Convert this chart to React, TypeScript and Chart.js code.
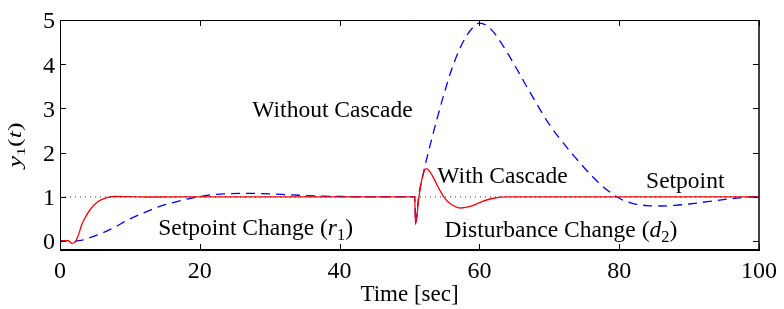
import React, { useEffect, useRef } from 'react';
import { Chart, registerables } from 'chart.js';

Chart.register(...registerables);

const FONT = "'Liberation Serif', 'Times New Roman', serif";

// axis ranges and ticks
const xMin = 0;
const xMax = 100;
const yMin = -0.2;
const yMax = 5;
const xTicks = [0, 20, 40, 60, 80, 100];
const yTicks = [0, 1, 2, 3, 4, 5];
const xTitle = 'Time [sec]';

// setpoint (dotted)
const setpointTime = [0, 100];
const setpointValue = [1, 1];

// with cascade (red, solid)
const cascadeTime = [0, 1.2, 1.7, 2.2, 2.7, 3.1, 3.7, 4.3, 5.4, 6.6, 8, 10, 14, 20, 30, 40, 50.75, 50.85, 51.35, 51.8, 52.4, 53.2, 54.1, 55, 56, 57.4, 58.8, 60.3, 62, 64, 70, 80, 90, 100];
const cascadeValue = [0.01, 0.01, -0.05, -0.01, 0.17, 0.37, 0.56, 0.71, 0.89, 0.98, 1.01, 1.005, 0.998, 1.0, 1.0, 1.0, 1.0, 0.38, 1.0, 1.42, 1.64, 1.5, 1.22, 0.98, 0.83, 0.75, 0.79, 0.89, 0.97, 1.0, 1.0, 1.0, 1.0, 1.0];

// without cascade (blue, dashed)
const noCascadeTime = [0, 1.2, 1.7, 2.3, 3.3, 4.3, 5.5, 6.6, 8, 9.7, 11.8, 14, 16.6, 19, 21.3, 23.5, 26.1, 29, 33.2, 37, 40.3, 45, 50.75, 50.9, 51.3, 52, 53, 54, 55, 56, 57, 58, 59, 60, 61, 62, 63, 64, 65, 66, 67, 68, 69, 70, 71, 72, 73, 74, 75, 76, 77, 78, 79, 80, 81, 82, 83, 84, 86, 88, 90, 92, 94, 96, 98, 100];
const noCascadeValue = [0.01, 0.01, -0.02, 0.0, 0.03, 0.08, 0.15, 0.22, 0.33, 0.48, 0.63, 0.77, 0.89, 0.98, 1.04, 1.07, 1.08, 1.075, 1.045, 1.02, 1.01, 1.0, 1.0, 0.42, 1.0, 1.55, 2.2, 2.8, 3.36, 3.87, 4.28, 4.6, 4.82, 4.93, 4.88, 4.73, 4.51, 4.26, 3.99, 3.71, 3.43, 3.16, 2.89, 2.64, 2.42, 2.22, 2.02, 1.84, 1.66, 1.49, 1.33, 1.19, 1.07, 0.97, 0.9, 0.85, 0.82, 0.805, 0.795, 0.81, 0.84, 0.88, 0.92, 0.96, 0.99, 1.01];

type Part = { t: string; i?: boolean; sub?: boolean };

// annotation texts and their anchors (data coords: centre x, baseline y)
const labelWithout: Part[] = [{ t: 'Without Cascade' }];
const labelWith: Part[] = [{ t: 'With Cascade' }];
const labelSetpoint: Part[] = [{ t: 'Setpoint' }];
const labelR1: Part[] = [{ t: 'Setpoint Change (' }, { t: 'r', i: true }, { t: '1', sub: true }, { t: ')' }];
const labelD2: Part[] = [{ t: 'Disturbance Change (' }, { t: 'd', i: true }, { t: '2', sub: true }, { t: ')' }];
const yLabel: Part[] = [{ t: 'y', i: true }, { t: '1', sub: true }, { t: '(' }, { t: 't', i: true }, { t: ')' }];

const annotations = [
  { parts: labelWithout, x: 38.98, y: 2.815 },
  { parts: labelWith, x: 63.3, y: 1.31 },
  { parts: labelSetpoint, x: 89.45, y: 1.196 },
  { parts: labelR1, x: 27.98, y: 0.14 },
  { parts: labelD2, x: 71.66, y: 0.088 },
];

const toPoints = (xs: number[], ys: number[]) => xs.map((x, k) => ({ x, y: ys[k] }));

function fontFor(p: Part, size: number) {
  return `${p.i ? 'italic ' : ''}${p.sub ? size * 0.7 : size}px ${FONT}`;
}

function drawRich(ctx: CanvasRenderingContext2D, parts: Part[], x: number, y: number, size: number) {
  const widths = parts.map((p) => {
    ctx.font = fontFor(p, size);
    return ctx.measureText(p.t).width;
  });
  const total = widths.reduce((a, b) => a + b, 0);
  let cx = x - total / 2;
  ctx.textAlign = 'left';
  ctx.textBaseline = 'alphabetic';
  parts.forEach((p, k) => {
    ctx.font = fontFor(p, size);
    ctx.fillText(p.t, cx, y + (p.sub ? size * 0.22 : 0));
    cx += widths[k];
  });
}

const framePlugin = {
  id: 'frameAndText',
  afterDatasetsDraw(chart: any) {
    const { ctx, chartArea: a, scales } = chart;
    const xs = scales.x;
    const ys = scales.y;
    ctx.save();
    ctx.strokeStyle = '#000';
    ctx.lineWidth = 1;
    const seg = (x1: number, y1: number, x2: number, y2: number) => {
      ctx.beginPath();
      ctx.moveTo(x1, y1);
      ctx.lineTo(x2, y2);
      ctx.stroke();
    };
    const tl = 6;
    for (const v of xTicks) {
      const px = Math.round(xs.getPixelForValue(v)) + 0.5;
      seg(px, a.bottom, px, a.bottom - tl);
      seg(px, a.top, px, a.top + tl);
    }
    for (const v of yTicks) {
      const py = Math.round(ys.getPixelForValue(v)) + 0.5;
      seg(a.left, py, a.left + tl, py);
      seg(a.right, py, a.right - tl, py);
    }
    // frame
    ctx.lineWidth = 1;
    seg(a.left, a.top + 0.5, a.right, a.top + 0.5);
    seg(a.left + 0.5, a.top, a.left + 0.5, a.bottom);
    ctx.lineWidth = 2;
    seg(a.left, a.bottom, a.right + 1, a.bottom);
    ctx.lineWidth = 1.5;
    seg(a.right, a.top, a.right, a.bottom);

    // annotations
    ctx.fillStyle = '#000';
    for (const an of annotations) {
      drawRich(ctx, an.parts, xs.getPixelForValue(an.x), ys.getPixelForValue(an.y), 23.5);
    }

    // y-axis label
    ctx.save();
    ctx.translate(15, 145);
    ctx.rotate(-Math.PI / 2);
    ctx.scale(1, 0.7);
    drawRich(ctx, yLabel, 0, 8, 26);
    ctx.restore();
    ctx.restore();
  },
};

export default function App() {
  const ref = useRef<HTMLCanvasElement | null>(null);

  useEffect(() => {
    if (!ref.current) return;
    const chart = new Chart(ref.current, {
      type: 'line',
      data: {
        datasets: [
          {
            label: 'Setpoint',
            data: toPoints(setpointTime, setpointValue),
            borderColor: '#333',
            borderWidth: 1,
            borderDash: [1, 4],
            pointRadius: 0,
            fill: false,
          },
          {
            label: 'With Cascade',
            data: toPoints(cascadeTime, cascadeValue),
            borderColor: '#ff0000',
            borderWidth: 1.3,
            pointRadius: 0,
            cubicInterpolationMode: 'monotone',
            fill: false,
          },
          {
            label: 'Without Cascade',
            data: toPoints(noCascadeTime, noCascadeValue),
            borderColor: '#0000ff',
            borderWidth: 1.3,
            borderDash: [9, 6],
            pointRadius: 0,
            cubicInterpolationMode: 'monotone',
            fill: false,
          },
        ],
      },
      options: {
        animation: false,
        responsive: true,
        maintainAspectRatio: false,
        layout: { padding: { left: 0, top: 20, right: 21, bottom: 0 } },
        plugins: { legend: { display: false }, tooltip: { enabled: false } },
        scales: {
          x: {
            type: 'linear',
            min: xMin,
            max: xMax,
            afterBuildTicks: (s: any) => {
              s.ticks = xTicks.map((v) => ({ value: v }));
            },
            afterFit: (s: any) => {
              s.height = 59;
            },
            ticks: {
              font: { family: FONT, size: 24 },
              color: '#000',
              padding: 7,
              maxRotation: 0,
              autoSkip: false,
            },
            grid: { display: false, drawTicks: false },
            border: { display: false },
            title: {
              display: true,
              text: xTitle,
              font: { family: FONT, size: 23 },
              color: '#000',
              padding: { top: 0, bottom: 0 },
            },
          },
          y: {
            type: 'linear',
            min: yMin,
            max: yMax,
            afterBuildTicks: (s: any) => {
              s.ticks = yTicks.map((v) => ({ value: v }));
            },
            afterFit: (s: any) => {
              s.width = 60;
            },
            ticks: {
              font: { family: FONT, size: 24 },
              color: '#000',
              padding: 5,
              labelOffset: 2,
            },
            grid: { display: false, drawTicks: false },
            border: { display: false },
          },
        },
      },
      plugins: [framePlugin],
    });
    return () => chart.destroy();
  }, []);

  return (
    <div style={{ position: 'absolute', left: 0, top: 0, width: 784, height: 309, background: '#fff' }}>
      <canvas ref={ref} />
    </div>
  );
}
